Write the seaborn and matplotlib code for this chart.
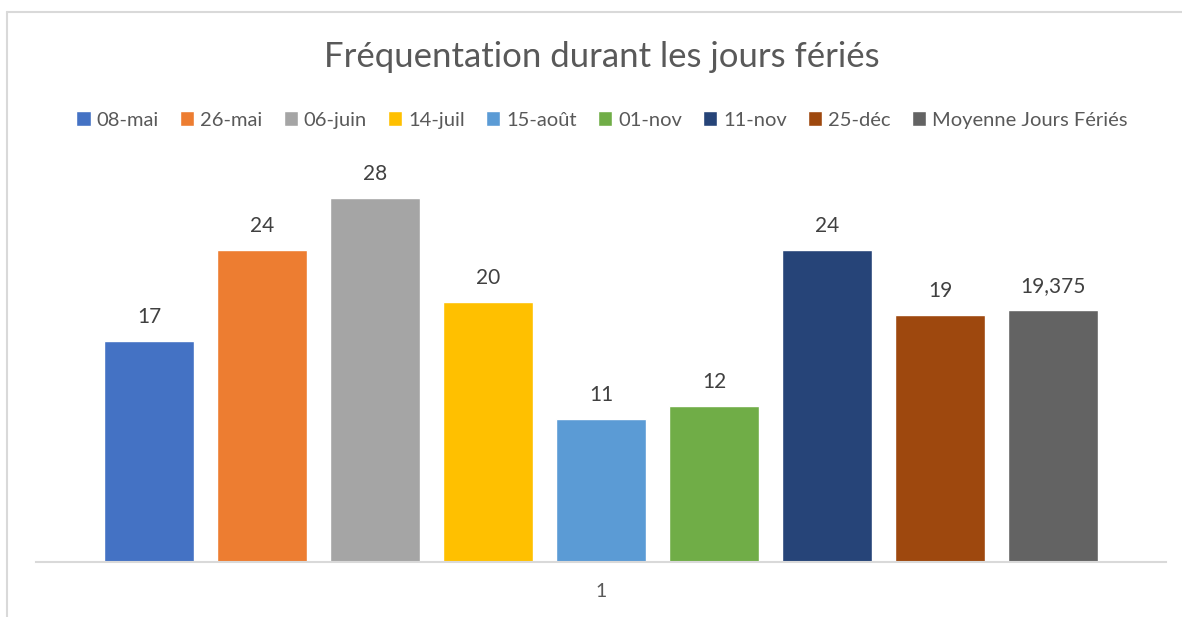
import pandas as pd
import seaborn as sns
import matplotlib.pyplot as plt
from matplotlib.lines import Line2D

series = ["08-mai", "26-mai", "06-juin", "14-juil", "15-août", "01-nov",
          "11-nov", "25-déc", "Moyenne Jours Fériés"]
values = [17, 24, 28, 20, 11, 12, 24, 19, 19.375]
category = ["1"] * len(series)
colors = ["#4472C4", "#ED7D31", "#A5A5A5", "#FFC000", "#5B9BD5",
          "#70AD47", "#264478", "#9E480E", "#636363"]

df = pd.DataFrame({"cat": category, "serie": series, "val": values})

sns.set_style("white")
plt.rcParams['font.family'] = ['Lato', 'DejaVu Sans']

fig = plt.figure(figsize=(11.82, 6.17), dpi=100)
ax = fig.add_axes([36 / 1182, 55 / 617, 1130 / 1182, 390 / 617])

sns.barplot(data=df, x="cat", y="val", hue="serie", palette=colors,
            width=0.9, gap=0.2, saturation=1, ax=ax, legend=True)

ax.set_ylim(0, 30)
ax.set_xlim(-0.5, 0.5)
for c in ax.containers:
    labs = [f"{v:g}".replace(".", ",") for v in c.datavalues]
    ax.bar_label(c, labels=labs, padding=10, fontsize=15, color="#404040")

for s in ["top", "left", "right"]:
    ax.spines[s].set_visible(False)
ax.spines["bottom"].set_color("#d9d9d9")
ax.spines["bottom"].set_linewidth(1.5)
ax.set_yticks([])
ax.set_xlabel("")
ax.set_ylabel("")
ax.tick_params(axis="x", length=0, labelsize=14, labelcolor="#595959", pad=15)

h, l = ax.get_legend_handles_labels()
ax.get_legend().remove()
fig.legend(h, l, loc="center", bbox_to_anchor=(602 / 1182, 1 - 120 / 617),
           ncol=9, frameon=False, fontsize=14.5, labelcolor="#595959",
           handlelength=0.7, handleheight=0.7, handletextpad=0.3,
           columnspacing=1.05)

fig.text(602 / 1182, 1 - 57 / 617, "Fréquentation durant les jours fériés",
         ha="center", va="center", fontsize=25, color="#595959")

# cadre du graphique
fig.add_artist(Line2D([7 / 1182, 7 / 1182], [0, 1 - 12 / 617],
                      transform=fig.transFigure, color="#d9d9d9", lw=1.5))
fig.add_artist(Line2D([7 / 1182, 1], [1 - 12 / 617, 1 - 12 / 617],
                      transform=fig.transFigure, color="#d9d9d9", lw=1.5))

fig.savefig("out.png", dpi=100)
